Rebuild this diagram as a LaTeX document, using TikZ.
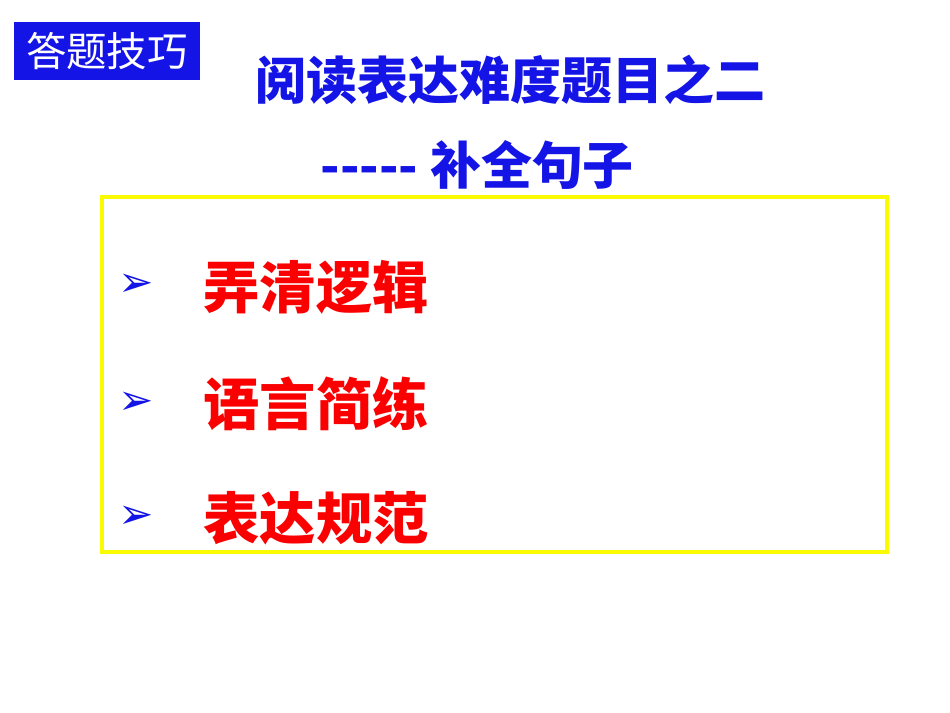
\documentclass[tikz,border=0pt]{standalone}
\usepackage{fontspec}
\setmainfont{Noto Sans CJK SC}
\newfontfamily\cjk{Noto Sans CJK SC}
\newfontfamily\djvu{DejaVu Sans}
\definecolor{tblue}{RGB}{20,20,230}
\definecolor{tred}{RGB}{250,0,0}
\definecolor{tyel}{RGB}{250,250,0}
\tikzset{title/.style={text=tblue,font=\cjk\fontsize{14.5pt}{16pt}\selectfont\bfseries,anchor=west,inner sep=0},
item/.style={text=tred,font=\cjk\fontsize{16pt}{18pt}\selectfont\bfseries,anchor=west,inner sep=0},
bul/.style={text=tblue,font=\djvu\fontsize{12pt}{14pt}\selectfont,inner sep=0}}
\begin{document}
\begin{tikzpicture}[x=0.01cm,y=-0.01cm]
\useasboundingbox[fill=white] (0,0) rectangle (950,713);
\node[fill=tblue,minimum width=186*0.01cm,minimum height=58*0.01cm,inner sep=0,text=white,font=\cjk\fontsize{11.5pt}{13pt}\selectfont] (tag) at (107,51) {答题技巧};
\node[title] (t1) at (255,80) {阅读表达难度题目之二};
\node[title] (t2) at (320,165) {----- 补全句子};
\draw[tyel,line width=1pt] (102,197) rectangle (887,552);
\node[bul] (b1) at (136,285) {➢};
\node[bul] (b2) at (136,403) {➢};
\node[bul] (b3) at (136,517) {➢};
\node[item] (i1) at (203,287) {弄清逻辑};
\node[item] (i2) at (203,404) {语言简练};
\node[item] (i3) at (203,518) {表达规范};
\end{tikzpicture}
\end{document}
